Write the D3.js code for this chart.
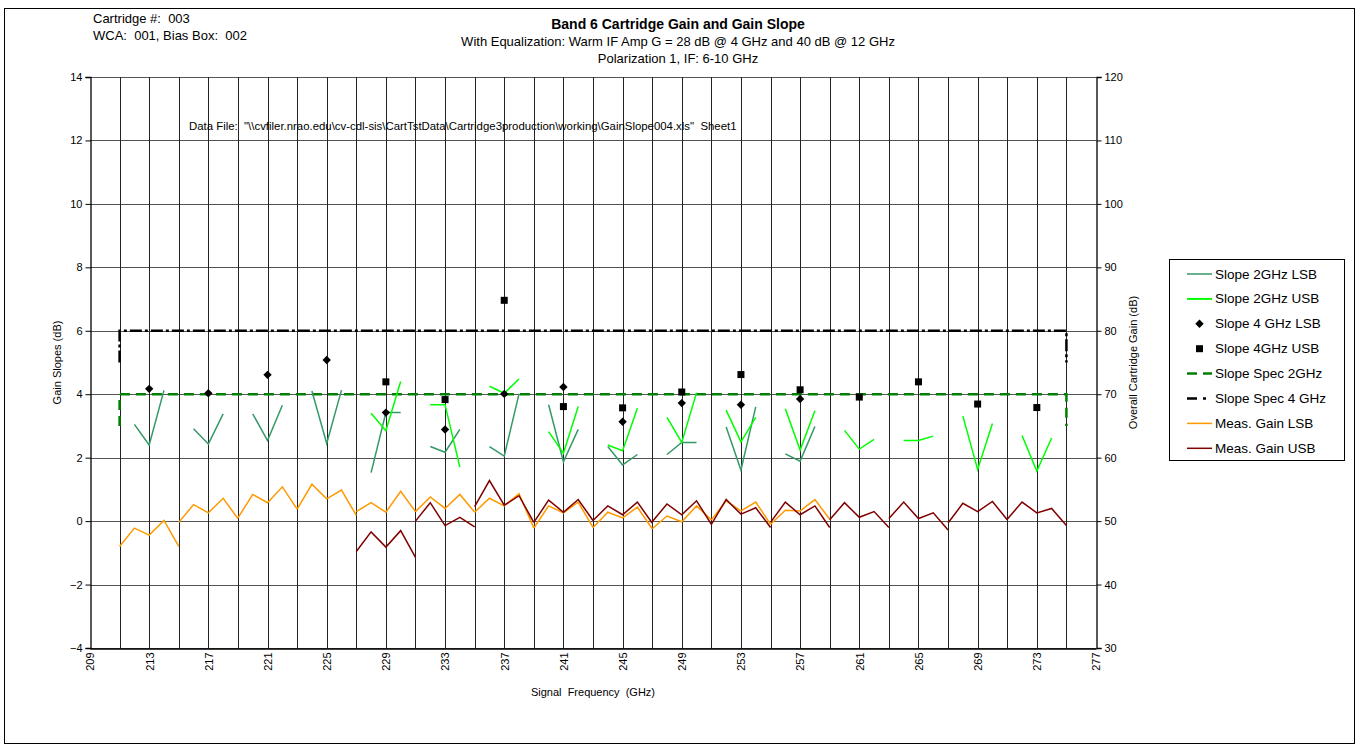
<!DOCTYPE html>
<html>
<head>
<meta charset="utf-8">
<script src="https://cdn.jsdelivr.net/npm/d3@7"></script>
<style>
  body { margin: 0; background: #fff; }
  text { font-family: "Liberation Sans", Arial, sans-serif; fill: #000; white-space: pre; }
</style>
</head>
<body>
<svg id="chart" width="1362" height="747"></svg>
<script>
// Signal-frequency centres (GHz) of each measured sideband group
const lsbCentres = [213, 217, 221, 225, 229, 233, 237, 241, 245, 249, 253, 257];
const usbCentres = [229, 233, 237, 241, 245, 249, 253, 257, 261, 265, 269, 273];

// Measured overall gain (dB), 5 points per group at centre-2 .. centre+2 GHz
const gainLsb = [
  [46.0, 48.9, 47.8, 50.1, 46.0],
  [49.8, 52.6, 51.3, 53.6, 50.4],
  [50.5, 54.2, 52.9, 55.4, 51.9],
  [51.9, 55.8, 53.5, 54.9, 50.9],
  [51.5, 52.9, 51.4, 54.7, 51.5],
  [51.5, 53.8, 52.0, 54.2, 51.4],
  [51.4, 53.6, 52.4, 54.3, 48.9],
  [48.9, 52.4, 51.3, 53.0, 49.0],
  [49.0, 51.4, 50.5, 52.2, 48.8],
  [48.8, 50.8, 49.9, 52.4, 50.2],
  [50.2, 53.2, 51.6, 53.0, 49.5],
  [49.5, 51.7, 51.6, 53.4, 50.3]
];
const gainUsb = [
  [45.2, 48.3, 45.9, 48.5, 44.3],
  [50.0, 52.9, 49.3, 50.6, 49.1],
  [52.3, 56.4, 52.5, 54.0, 49.8],
  [49.8, 53.3, 51.4, 53.4, 50.1],
  [50.1, 52.4, 51.0, 53.0, 49.7],
  [49.9, 52.7, 51.0, 53.2, 49.5],
  [49.5, 53.4, 51.1, 52.1, 49.0],
  [49.8, 53.0, 51.0, 52.4, 49.0],
  [50.2, 52.9, 50.6, 51.5, 49.0],
  [50.4, 53.0, 50.4, 51.3, 48.6],
  [49.7, 52.8, 51.5, 53.1, 50.2],
  [50.3, 53.0, 51.3, 52.0, 49.3]
];

// Gain slope in any 2 GHz window (dB), 3 points per group at centre-1 .. centre+1 GHz
const slope2Lsb = [
  [3.05, 2.40, 4.12], [2.91, 2.43, 3.38], [3.38, 2.54, 3.65], [4.10, 2.45, 4.13],
  [1.53, 3.42, 3.42], [2.35, 2.17, 2.89], [2.35, 2.05, 4.01], [3.67, 1.87, 2.89],
  [2.35, 1.77, 2.10], [2.10, 2.48, 2.48], [2.97, 1.61, 3.60], [2.12, 1.89, 2.98]
];
const slope2Usb = [
  [3.40, 2.85, 4.40], [3.67, 3.67, 1.70], [4.25, 4.03, 4.48], [2.82, 2.14, 3.61],
  [2.40, 2.22, 3.56], [3.27, 2.48, 4.05], [3.50, 2.50, 3.27], [3.54, 2.24, 3.48],
  [2.86, 2.27, 2.58], [2.54, 2.54, 2.68], [3.31, 1.63, 3.08], [2.70, 1.58, 2.62]
];

// Gain slope across the full 4 GHz IF band (dB), one value per group
const slope4Lsb = [4.17, 4.03, 4.61, 5.08, 3.42, 2.89, 4.01, 4.23, 3.13, 3.72, 3.67, 3.85];
const slope4Usb = [4.39, 3.83, 6.96, 3.61, 3.57, 4.07, 4.62, 4.14, 3.91, 4.39, 3.69, 3.58];

// Specification limits
const specFreq = [211, 211, 275, 275];
const spec2GHz = [3, 4, 4, 3];
const spec4GHz = [5, 6, 6, 5];

// Axis ticks
const xTickLabels = d3.range(209, 278, 4);
const xGrid = d3.range(211, 277, 2);
const leftTicks = d3.range(-4, 15, 2);
const rightTicks = d3.range(30, 121, 10);

const svg = d3.select("#chart");
const W = 1362, H = 747;
const plot = { left: 90, right: 1096, top: 77, bottom: 648 };

const x = d3.scaleLinear().domain([209, 277]).range([plot.left, plot.right]);
const yL = d3.scaleLinear().domain([-4, 14]).range([plot.bottom, plot.top]);
const yR = d3.scaleLinear().domain([30, 120]).range([plot.bottom, plot.top]);

const colors = {
  s2lsb: "#339966", s2usb: "#00ff00", glsb: "#ff9900", gusb: "#800000",
  spec2: "#008000", spec4: "#000000"
};

svg.append("rect").attr("width", W).attr("height", H).attr("fill", "#fff");
// outer chart frame
svg.append("rect").attr("x", 4.5).attr("y", 8.5).attr("width", 1350).attr("height", 735)
  .attr("fill", "none").attr("stroke", "#000").attr("stroke-width", 1);

// header texts
svg.append("text").attr("x", 93).attr("y", 23).attr("font-size", 13).text("Cartridge #:  003");
svg.append("text").attr("x", 93).attr("y", 40).attr("font-size", 13).text("WCA:  001, Bias Box:  002");
svg.append("text").attr("x", 678).attr("y", 29).attr("font-size", 14).attr("font-weight", "bold")
  .attr("text-anchor", "middle").text("Band 6 Cartridge Gain and Gain Slope");
svg.append("text").attr("x", 678).attr("y", 46).attr("font-size", 13).attr("text-anchor", "middle")
  .text("With Equalization: Warm IF Amp G = 28 dB @ 4 GHz and 40 dB @ 12 GHz");
svg.append("text").attr("x", 678).attr("y", 63).attr("font-size", 13).attr("text-anchor", "middle")
  .text("Polarization 1, IF: 6-10 GHz");

// grid
const grid = svg.append("g");
grid.selectAll("line.h").data(leftTicks).join("line")
  .attr("x1", plot.left).attr("x2", plot.right)
  .attr("y1", d => Math.round(yL(d)) + 0.5).attr("y2", d => Math.round(yL(d)) + 0.5)
  .attr("stroke", "#555").attr("stroke-width", 1);
grid.selectAll("line.v").data(xGrid).join("line")
  .attr("x1", d => Math.round(x(d)) + 0.5).attr("x2", d => Math.round(x(d)) + 0.5)
  .attr("y1", plot.top).attr("y2", plot.bottom)
  .attr("stroke", "#222").attr("stroke-width", 1);

// axes
const axL = svg.append("g").attr("transform", `translate(${plot.left + 0.5},0)`)
  .call(d3.axisLeft(yL).tickValues(leftTicks).tickSize(5).tickPadding(3).tickFormat(d3.format("d")));
const axR = svg.append("g").attr("transform", `translate(${plot.right + 0.5},0)`)
  .call(d3.axisRight(yR).tickValues(rightTicks).tickSize(5).tickPadding(3).tickFormat(d3.format("d")));
const axB = svg.append("g").attr("transform", `translate(0,${plot.bottom + 0.5})`)
  .call(d3.axisBottom(x).tickValues(xTickLabels).tickSize(0).tickFormat(d3.format("d")));
[axL, axR, axB].forEach(a => {
  a.select(".domain").attr("stroke", "#000").attr("stroke-width", 1.3);
  a.selectAll("text").attr("font-size", 11).attr("font-family", "'Liberation Sans', Arial, sans-serif").attr("fill", "#000");
});
axB.selectAll("text")
  .attr("transform", "rotate(-90)")
  .attr("text-anchor", "end")
  .attr("x", -4).attr("y", 0).attr("dy", "0.35em");

// axis titles
svg.append("text").attr("font-size", 11).attr("text-anchor", "middle")
  .attr("transform", `translate(61,${(plot.top + plot.bottom) / 2}) rotate(-90)`).text("Gain Slopes (dB)");
svg.append("text").attr("font-size", 11).attr("text-anchor", "middle")
  .attr("transform", `translate(1137,${(plot.top + plot.bottom) / 2}) rotate(-90)`).text("Overall Cartridge Gain (dB)");
svg.append("text").attr("font-size", 11).attr("text-anchor", "middle")
  .attr("x", (plot.left + plot.right) / 2).attr("y", 696).text("Signal  Frequency  (GHz)");

// data file note, clipped where the text box ends
svg.append("clipPath").attr("id", "noteClip").append("rect")
  .attr("x", 180).attr("y", 110).attr("width", 558).attr("height", 30);
svg.append("text").attr("clip-path", "url(#noteClip)").attr("x", 189).attr("y", 130).attr("font-size", 11.4)
  .text("Data File:  \"\\\\cvfiler.nrao.edu\\cv-cdl-sis\\CartTstData\\Cartridge3production\\working\\GainSlope004.xls\"  Sheet1");

const data = svg.append("g");

// spec limits
const specLine = (vals) => d3.line().x((d, i) => x(specFreq[i])).y(d => yL(d))(vals);
data.append("path").attr("d", specLine(spec4GHz)).attr("fill", "none")
  .attr("stroke", colors.spec4).attr("stroke-width", 2.5).attr("stroke-dasharray", "12,3,3,3");
data.append("path").attr("d", specLine(spec2GHz)).attr("fill", "none")
  .attr("stroke", colors.spec2).attr("stroke-width", 2.5).attr("stroke-dasharray", "10,6");

// grouped line series
function drawGroups(groups, centres, half, scale, color, width) {
  const line = d3.line().x(d => x(d[0])).y(d => scale(d[1]));
  groups.forEach((g, gi) => {
    const pts = g.map((v, i) => [centres[gi] - half + i, v]);
    data.append("path").attr("d", line(pts)).attr("fill", "none")
      .attr("stroke", color).attr("stroke-width", width).attr("stroke-linejoin", "miter");
  });
}
drawGroups(gainLsb, lsbCentres, 2, yR, colors.glsb, 1.5);
drawGroups(gainUsb, usbCentres, 2, yR, colors.gusb, 1.5);
drawGroups(slope2Lsb, lsbCentres, 1, yL, colors.s2lsb, 1.5);
drawGroups(slope2Usb, usbCentres, 1, yL, colors.s2usb, 1.5);

// 4 GHz slope markers
const diamond = "M0,-4.2L4.2,0L0,4.2L-4.2,0Z";
data.selectAll("path.dia").data(slope4Lsb).join("path")
  .attr("transform", (d, i) => `translate(${x(lsbCentres[i])},${yL(d)})`)
  .attr("d", diamond).attr("fill", "#000");
data.selectAll("rect.sq").data(slope4Usb).join("rect")
  .attr("x", (d, i) => x(usbCentres[i]) - 3.5).attr("y", d => yL(d) - 3.5)
  .attr("width", 7).attr("height", 7).attr("fill", "#000");

// legend
const lg = svg.append("g");
lg.append("rect").attr("x", 1169.5).attr("y", 259.5).attr("width", 175).attr("height", 201)
  .attr("fill", "#fff").attr("stroke", "#000").attr("stroke-width", 1);
const legendItems = [
  { label: "Slope 2GHz LSB", kind: "line", color: colors.s2lsb, w: 1.5 },
  { label: "Slope 2GHz USB", kind: "line", color: colors.s2usb, w: 2 },
  { label: "Slope 4 GHz LSB", kind: "diamond" },
  { label: "Slope 4GHz USB", kind: "square" },
  { label: "Slope Spec 2GHz", kind: "line", color: colors.spec2, w: 2.5, dash: "10,6" },
  { label: "Slope Spec 4 GHz", kind: "line", color: colors.spec4, w: 2.5, dash: "10,6,3,6" },
  { label: "Meas. Gain LSB", kind: "line", color: colors.glsb, w: 1.5 },
  { label: "Meas. Gain USB", kind: "line", color: colors.gusb, w: 1.5 }
];
legendItems.forEach((it, i) => {
  const cy = 274 + i * 24.9;
  if (it.kind === "line") {
    lg.append("line").attr("x1", 1187).attr("x2", 1212).attr("y1", cy).attr("y2", cy)
      .attr("stroke", it.color).attr("stroke-width", it.w)
      .attr("stroke-dasharray", it.dash || null);
  } else if (it.kind === "diamond") {
    lg.append("path").attr("transform", `translate(1199.5,${cy})`).attr("d", diamond).attr("fill", "#000");
  } else {
    lg.append("rect").attr("x", 1196).attr("y", cy - 3.5).attr("width", 7).attr("height", 7).attr("fill", "#000");
  }
  lg.append("text").attr("x", 1215).attr("y", cy + 4.5).attr("font-size", 13.5).text(it.label);
});
</script>
</body>
</html>
